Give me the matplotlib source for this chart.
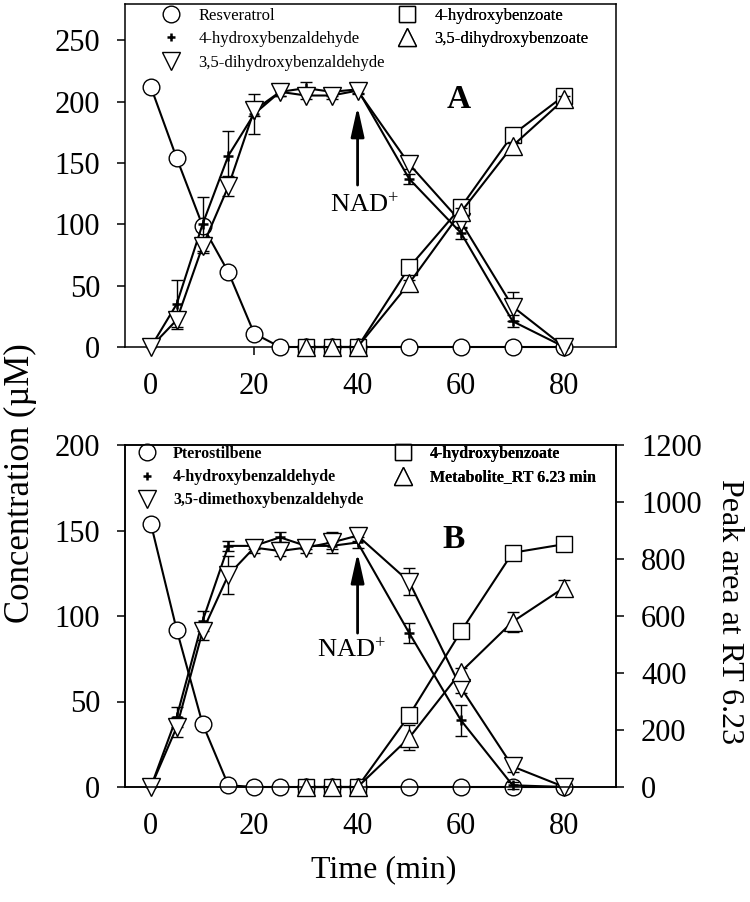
import matplotlib
matplotlib.use('Agg')
import matplotlib.pyplot as plt
from matplotlib.lines import Line2D

plt.rcParams['font.family'] = ['Liberation Serif', 'DejaVu Serif']
plt.rcParams['mathtext.fontset'] = 'custom'
plt.rcParams['mathtext.rm'] = 'Liberation Serif'
plt.rcParams['mathtext.it'] = 'Liberation Serif:italic'
plt.rcParams['mathtext.bf'] = 'Liberation Serif:bold'

# ---------------- data ----------------
time = [0, 5, 10, 15, 20, 25, 30, 35, 40, 50, 60, 70, 80]
time_late = [30, 35, 40, 50, 60, 70, 80]

# Panel A (uM)
resveratrol = [212, 154, 99, 61, 11, 0, 0, 0, 0, 0, 0, 0, 0]
hba_A = [0, 35, 100, 156, 190, 208, 211, 208, 210, 137, 93, 21, 0]
hba_A_err = [0, 20, 22, 20, 16, 3, 5, 3, 3, 4, 5, 5, 0]
dhbald_A = [0, 22, 82, 131, 193, 208, 205, 205, 209, 149, 102, 33, 0]
dhbald_A_err = [0, 6, 5, 8, 5, 3, 3, 3, 3, 4, 5, 12, 0]
hbz_A = [0, 0, 0, 65, 114, 173, 205]
hbz_A_err = [0, 0, 0, 3, 4, 3, 3]
dhbz_A = [0, 0, 0, 52, 110, 164, 202]
dhbz_A_err = [0, 0, 0, 3, 3, 3, 3]

# Panel B (uM, metabolite as peak area)
pterostilbene = [154, 92, 37, 1, 0, 0, 0, 0, 0, 0, 0, 0, 0]
hba_B = [0, 41, 97, 141, 141, 146, 141, 141, 143, 90, 39, 1, 0]
hba_B_err = [0, 6, 6, 3, 2, 3, 2, 2, 3, 6, 9, 2, 0]
dmbald_B = [0, 35, 91, 124, 140, 138, 140, 143, 147, 120, 58, 12, 0]
dmbald_B_err = [0, 6, 5, 11, 3, 3, 3, 6, 3, 8, 3, 3, 0]
hbz_B = [0, 0, 0, 42, 91, 137, 142]
hbz_B_err = [0, 0, 0, 3, 2, 2, 2]
metab_B = [0, 0, 0, 173, 404, 580, 700]
metab_B_err = [0, 0, 0, 43, 15, 35, 25]

x_ticks = [0, 20, 40, 60, 80]
yA_ticks = [0, 50, 100, 150, 200, 250]
yB_ticks = [0, 50, 100, 150, 200]
yB2_ticks = [0, 200, 400, 600, 800, 1000, 1200]

labels_A = ['Resveratrol', '4-hydroxybenzaldehyde', '3,5-dihydroxybenzaldehyde',
            '4-hydroxybenzoate', '3,5-dihydroxybenzoate']
labels_B = ['Pterostilbene', '4-hydroxybenzaldehyde', '3,5-dimethoxybenzaldehyde',
            '4-hydroxybenzoate', 'Metabolite_RT 6.23 min']

# ---------------- figure ----------------
W, H = 750, 902
fig = plt.figure(figsize=(W / 100, H / 100), dpi=100)


def box(l, t, r, b):
    return [l / W, 1 - b / H, (r - l) / W, (b - t) / H]


axA = fig.add_axes(box(125, 3.5, 616, 347))
axB = fig.add_axes(box(125, 445, 616, 787))
axB2 = axB.twinx()

LW = 1.5
MS = {'o': 12, '+': 7, 'v': 12.5, 's': 11.5, '^': 12.5}


def series(ax, x, y, err, marker, z):
    if err is not None:
        xe = [a for a, e in zip(x, err) if e > 0]
        ye = [b for b, e in zip(y, err) if e > 0]
        ee = [e for e in err if e > 0]
        ax.errorbar(xe, ye, yerr=ee, fmt='none', ecolor='k', elinewidth=1.0,
                    capsize=4, capthick=1.0, zorder=z, clip_on=False)
    mew = 1.8 if marker == '+' else 1.0
    ax.plot(x, y, color='k', lw=LW, marker=marker, ms=MS[marker],
            mfc='white', mec='k', mew=mew, zorder=z + 0.5, clip_on=False)


# Panel A
series(axA, time, resveratrol, None, 'o', 3)
series(axA, time, hba_A, hba_A_err, '+', 4)
series(axA, time, dhbald_A, dhbald_A_err, 'v', 5)
series(axA, time_late, hbz_A, hbz_A_err, 's', 6)
series(axA, time_late, dhbz_A, dhbz_A_err, '^', 7)

# Panel B
series(axB, time, pterostilbene, None, 'o', 3)
series(axB, time, hba_B, hba_B_err, '+', 4)
series(axB, time, dmbald_B, dmbald_B_err, 'v', 5)
series(axB, time_late, hbz_B, hbz_B_err, 's', 6)
series(axB2, time_late, metab_B, metab_B_err, '^', 7)

TICK_FS = 22
for ax in (axA, axB):
    ax.set_xlim(-5, 90)
    ax.set_xticks(x_ticks)
    ax.tick_params(direction='out', length=6, width=1.1, labelsize=TICK_FS, pad=12,
                   top=False, right=False)
    for s in ax.spines.values():
        s.set_linewidth(1.1)
axA.set_ylim(0, 280)
axA.set_yticks(yA_ticks)
axB.set_ylim(0, 200)
axB.set_yticks(yB_ticks)
axB2.set_ylim(0, 1200)
axB2.set_yticks(yB2_ticks)
axB2.tick_params(direction='out', length=6, width=1.1, labelsize=TICK_FS, pad=12)
for s in axB2.spines.values():
    s.set_linewidth(1.1)


def legend(ax, markers, labels, xa, ya, bold, size):
    handles = [Line2D([], [], ls='none', marker=m, ms=MS[m] if m != '+' else 6,
                      mfc='white', mec='k', mew=(1.8 if m == '+' else 1.0))
               for m in markers]
    prop = {'size': size, 'weight': 'bold' if bold else 'normal'}
    leg = ax.legend(handles, labels, loc='upper left', bbox_to_anchor=(xa, ya),
                    bbox_transform=ax.transAxes, frameon=False, prop=prop,
                    handlelength=1.0, handletextpad=1.15, labelspacing=0.45,
                    borderpad=0, borderaxespad=0, numpoints=1)
    ax.add_artist(leg)


legend(axA, ['o', '+', 'v'], labels_A[:3], 0.0768, 0.988, False, 12)
legend(axA, ['s', '^'], labels_A[3:], 0.5574, 0.988, False, 12)
legend(axB, ['o', '+', 'v'], labels_B[:3], 0.0279, 0.997, True, 11.5)
legend(axB, ['s', '^'], labels_B[3:], 0.5505, 0.997, True, 11.5)

# annotations
axA.text(59.6, 202, 'A', fontsize=24, fontweight='bold', ha='center', va='center')
axB.text(58.6, 145, 'B', fontsize=24, fontweight='bold', ha='center', va='center')

arrow = dict(arrowstyle='-|>,head_length=0.9,head_width=0.2', lw=2, color='k',
             mutation_scale=20, shrinkA=0, shrinkB=0)
axA.annotate('', xy=(40, 196), xytext=(40, 132), arrowprops=arrow)
axB.annotate('', xy=(40, 137), xytext=(40, 90), arrowprops=arrow)
axA.text(34.6, 110, r'NAD$^{+}$', fontsize=19, ha='left', va='baseline')
axB.text(32.2, 76, r'NAD$^{+}$', fontsize=19, ha='left', va='baseline')

fig.text(20 / W, 1 - 483 / H, 'Concentration (µM)', rotation=90, ha='center',
         va='center', fontsize=25)
fig.text(730 / W, 1 - 612 / H, 'Peak area at RT 6.23', rotation=270, ha='center',
         va='center', fontsize=23)
fig.text(384 / W, 1 - 870 / H, 'Time (min)', ha='center', va='center', fontsize=23)

fig.savefig('out.png', dpi=100)
